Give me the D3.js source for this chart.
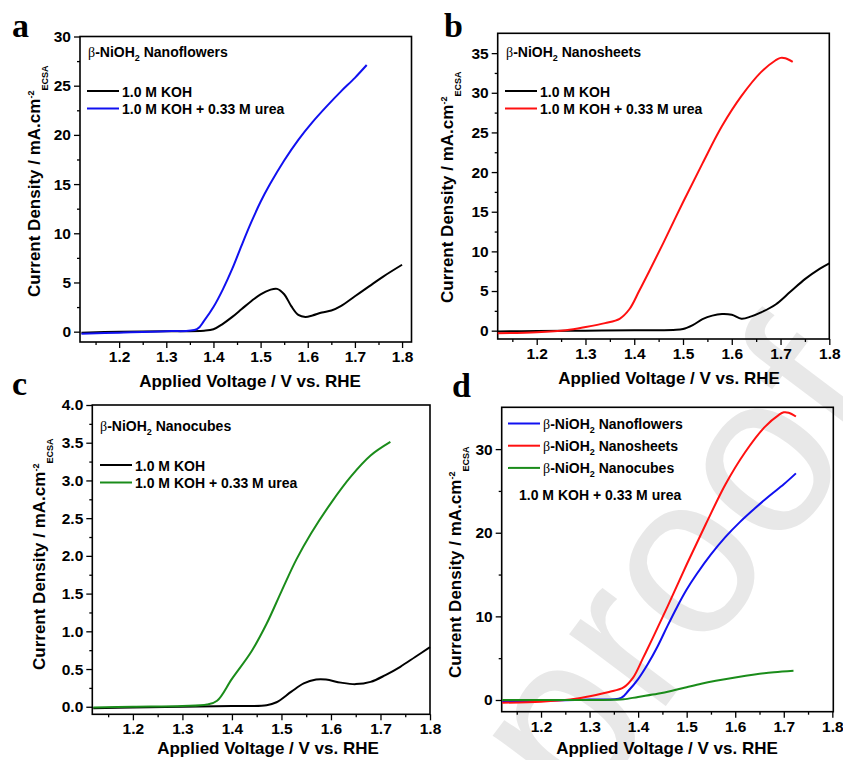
<!DOCTYPE html>
<html>
<head>
<meta charset="utf-8">
<script src="https://cdn.jsdelivr.net/npm/d3@7"></script>
<style>
  body { margin: 0; background: #fff; }
  svg { display: block; }
  text { font-family: Arial, "Liberation Sans", sans-serif; font-weight: bold; fill: #000; }
</style>
</head>
<body>
<svg id="fig" width="843" height="760"></svg>
<script>
// ----------------- DATA -----------------
// panel a, nanoflowers
var flowersKohV  = [1.12, 1.2, 1.3, 1.38, 1.40, 1.42, 1.44, 1.46, 1.48, 1.50, 1.52, 1.535, 1.55, 1.565, 1.58, 1.595, 1.61, 1.63, 1.65, 1.67, 1.70, 1.73, 1.76, 1.80];
var flowersKohJ  = [-0.1, 0, 0.05, 0.1, 0.25, 0.8, 1.5, 2.3, 3.1, 3.8, 4.25, 4.35, 3.8, 2.6, 1.7, 1.5, 1.65, 1.95, 2.15, 2.6, 3.6, 4.6, 5.6, 6.8];
var flowersUreaV = [1.12, 1.2, 1.3, 1.365, 1.38, 1.40, 1.42, 1.44, 1.46, 1.48, 1.50, 1.52, 1.55, 1.58, 1.61, 1.64, 1.67, 1.70, 1.725];
var flowersUreaJ = [-0.2, -0.1, 0.05, 0.25, 1.1, 2.5, 4.3, 6.4, 8.8, 11.1, 13.2, 15.0, 17.4, 19.5, 21.3, 22.9, 24.4, 25.8, 27.1];

// panel b, nanosheets
var sheetsKohV  = [1.12, 1.2, 1.3, 1.4, 1.48, 1.50, 1.52, 1.54, 1.56, 1.58, 1.60, 1.62, 1.64, 1.66, 1.69, 1.72, 1.75, 1.78, 1.80];
var sheetsKohJ  = [-0.1, -0.05, 0, 0.05, 0.1, 0.2, 0.7, 1.45, 1.9, 2.1, 2.0, 1.5, 1.8, 2.3, 3.3, 4.9, 6.5, 7.8, 8.5];
var sheetsUreaV = [1.12, 1.2, 1.26, 1.30, 1.34, 1.37, 1.39, 1.41, 1.43, 1.46, 1.50, 1.54, 1.58, 1.62, 1.66, 1.69, 1.70, 1.71, 1.725];
var sheetsUreaJ = [-0.33, -0.2, 0.05, 0.45, 0.95, 1.5, 2.7, 5.0, 7.4, 11.1, 16.2, 21.1, 25.8, 29.6, 32.6, 34.1, 34.4, 34.35, 33.9];

// panel c, nanocubes
var cubesKohV  = [1.12, 1.2, 1.3, 1.4, 1.47, 1.49, 1.52, 1.545, 1.57, 1.59, 1.62, 1.65, 1.68, 1.71, 1.74, 1.77, 1.80];
var cubesKohJ  = [-0.02, -0.01, 0, 0.01, 0.02, 0.06, 0.2, 0.31, 0.36, 0.36, 0.32, 0.30, 0.33, 0.42, 0.53, 0.66, 0.79];
var cubesUreaV = [1.12, 1.2, 1.3, 1.35, 1.37, 1.40, 1.44, 1.47, 1.50, 1.53, 1.56, 1.60, 1.64, 1.68, 1.72];
var cubesUreaJ = [-0.01, 0, 0.01, 0.03, 0.08, 0.37, 0.74, 1.1, 1.53, 1.95, 2.3, 2.7, 3.05, 3.33, 3.51];

var xTicks = [1.2, 1.3, 1.4, 1.5, 1.6, 1.7, 1.8];
var xMinor = [1.15, 1.25, 1.35, 1.45, 1.55, 1.65, 1.75];

var blue = '#1010f0', red = '#ff1010', green = '#1a8c1a';

function zip(v, j) { return v.map(function(d, i) { return [d, j[i]]; }); }

var panels = [
  { letter: 'a', lx: 12, ly: 37, left: 80, right: 411.5, top: 36.5, bottom: 342,
    xDom: [1.117, 1.82], yDom: [-1.05, 30], yTicks: [0, 5, 10, 15, 20, 25, 30], yStep: 2.5, yFmt: d3.format('d'),
    xTitleX: 250, yTitleX: 40, yTitleY: 297,
    title: 'Nanoflowers', titleX: 88, titleY: 57,
    series: [ { data: zip(flowersKohV, flowersKohJ), color: '#000', label: '1.0 M KOH' },
              { data: zip(flowersUreaV, flowersUreaJ), color: blue, label: ' 1.0 M KOH + 0.33 M urea' } ],
    legX: 87, legY: 91 },
  { letter: 'b', lx: 444, ly: 37, left: 497.7, right: 829.3, top: 33.3, bottom: 339,
    xDom: [1.12, 1.8], yDom: [-1.05, 37.5], yTicks: [0, 5, 10, 15, 20, 25, 30, 35], yStep: 2.5, yFmt: d3.format('d'),
    xTitleX: 669, yTitleX: 453, yTitleY: 303,
    title: 'Nanosheets', titleX: 506, titleY: 57,
    series: [ { data: zip(sheetsKohV, sheetsKohJ), color: '#000', label: '1.0 M KOH' },
              { data: zip(sheetsUreaV, sheetsUreaJ), color: red, label: ' 1.0 M KOH + 0.33 M urea' } ],
    legX: 505, legY: 91 },
  { letter: 'c', lx: 12, ly: 395, left: 92.3, right: 430, top: 405, bottom: 714.3,
    xDom: [1.118, 1.8], yDom: [-0.1, 4.0], yTicks: [0, 0.5, 1, 1.5, 2, 2.5, 3, 3.5, 4], yStep: 0.25, yFmt: d3.format('.1f'),
    xTitleX: 268, yTitleX: 45, yTitleY: 670,
    title: 'Nanocubes', titleX: 100, titleY: 431,
    series: [ { data: zip(cubesKohV, cubesKohJ), color: '#000', label: '1.0 M KOH' },
              { data: zip(cubesUreaV, cubesUreaJ), color: green, label: ' 1.0 M KOH + 0.33 M urea' } ],
    legX: 100, legY: 465 },
  { letter: 'd', lx: 452, ly: 397, left: 501.7, right: 833.3, top: 407.3, bottom: 711.7,
    xDom: [1.119, 1.802], yDom: [-1.4, 35], yTicks: [0, 10, 20, 30], yStep: 5, yFmt: d3.format('d'),
    xTitleX: 667, yTitleX: 461, yTitleY: 678,
    series: [ { data: zip(flowersUreaV, flowersUreaJ), color: blue, label: 'Nanoflowers', beta: true },
              { data: zip(sheetsUreaV, sheetsUreaJ), color: red, label: 'Nanosheets', beta: true },
              { data: zip(cubesUreaV, cubesUreaJ), color: green, label: 'Nanocubes', beta: true } ],
    legX: 508, legY: 423.5, legGap: 22.2, note: '1.0 M KOH + 0.33 M urea', noteX: 519, noteY: 500 }
];

var svg = d3.select('#fig');

// watermark behind panel d
svg.append('text')
  .attr('transform', 'translate(580,820) rotate(-53)')
  .style('font-size', '228px').style('font-weight', 'normal').style('fill', '#e8e8e8')
  .text('proof');

// beta-NiOH2 label: beta in serif, subscript 2
function niohText(sel, name) {
  sel.append('tspan').style('font-family', '"Liberation Serif", "Times New Roman", serif')
    .style('font-weight', 'normal').text('\u03B2');
  sel.append('tspan').text('-NiOH');
  sel.append('tspan').attr('dy', 4).style('font-size', '9px').text('2');
  sel.append('tspan').attr('dy', -4).text(' ' + name);
}

function styleTicks(a, labels) {
  a.select('.domain').remove();
  a.selectAll('line').attr('stroke-width', 1.3);
  if (labels) {
    a.selectAll('text').attr('fill', '#000').style('font-size', '15.5px')
      .style('font-family', 'Arial, "Liberation Sans", sans-serif').style('font-weight', 'bold');
  }
}

function drawPanel(p) {
  var g = svg.append('g');
  var x = d3.scaleLinear().domain(p.xDom).range([p.left, p.right]);
  var y = d3.scaleLinear().domain(p.yDom).range([p.bottom, p.top]);

  var yMinor = d3.range(p.yTicks[0] + p.yStep, p.yDom[1], p.yStep).filter(function(v) {
    return p.yTicks.every(function(t) { return Math.abs(t - v) > 1e-6; });
  });

  // minor ticks
  g.append('g').attr('transform', 'translate(0,' + p.bottom + ')')
    .call(d3.axisBottom(x).tickValues(xMinor).tickSize(3).tickFormat(''))
    .call(styleTicks, false);
  g.append('g').attr('transform', 'translate(' + p.left + ',0)')
    .call(d3.axisLeft(y).tickValues(yMinor).tickSize(3).tickFormat(''))
    .call(styleTicks, false);

  // major ticks
  g.append('g').attr('transform', 'translate(0,' + p.bottom + ')')
    .call(d3.axisBottom(x).tickValues(xTicks).tickSize(6).tickPadding(3).tickFormat(d3.format('.1f')))
    .call(styleTicks, true);
  g.append('g').attr('transform', 'translate(' + p.left + ',0)')
    .call(d3.axisLeft(y).tickValues(p.yTicks).tickSize(6).tickPadding(3).tickFormat(p.yFmt))
    .call(styleTicks, true);

  // frame
  g.append('rect').attr('x', p.left).attr('y', p.top)
    .attr('width', p.right - p.left).attr('height', p.bottom - p.top)
    .attr('fill', 'none').attr('stroke', '#000').attr('stroke-width', 1.6);

  // curves
  var line = d3.line().x(function(d) { return x(d[0]); }).y(function(d) { return y(d[1]); })
    .curve(d3.curveCatmullRom.alpha(0.5));
  p.series.forEach(function(s) {
    g.append('path').datum(s.data).attr('d', line)
      .attr('fill', 'none').attr('stroke', s.color).attr('stroke-width', 2);
  });

  // panel title / legend
  if (p.title) {
    niohText(g.append('text').attr('x', p.titleX).attr('y', p.titleY).style('font-size', '14px'), p.title);
  }
  var gap = p.legGap || 17.5;
  p.series.forEach(function(s, i) {
    var ly = p.legY + i * gap;
    g.append('line').attr('x1', p.legX).attr('x2', p.legX + 32).attr('y1', ly).attr('y2', ly)
      .attr('stroke', s.color).attr('stroke-width', 2);
    var t = g.append('text').attr('x', p.legX + 35).attr('y', ly + 5.5).style('font-size', '14px');
    if (s.beta) niohText(t, s.label); else t.text(s.label);
  });
  if (p.note) {
    g.append('text').attr('x', p.noteX).attr('y', p.noteY).style('font-size', '14px').text(p.note);
  }

  // axis titles
  g.append('text').attr('x', p.xTitleX).attr('y', Math.min(p.bottom + 45, 754)).attr('text-anchor', 'middle')
    .style('font-size', '17px').text('Applied Voltage / V vs. RHE');
  var yt = g.append('text').attr('transform', 'translate(' + p.yTitleX + ',' + p.yTitleY + ') rotate(-90)')
    .style('font-size', '17px');
  yt.append('tspan').text('Current Density / mA.cm');
  yt.append('tspan').attr('dy', -6).style('font-size', '9px').text('-2');
  yt.append('tspan').attr('dy', 14).style('font-size', '9px').text('ECSA');

  // panel letter
  g.append('text').attr('x', p.lx).attr('y', p.ly)
    .style('font-family', '"Liberation Serif", "Times New Roman", serif')
    .style('font-size', '34px').text(p.letter);
}

panels.forEach(drawPanel);
</script>
</body>
</html>
